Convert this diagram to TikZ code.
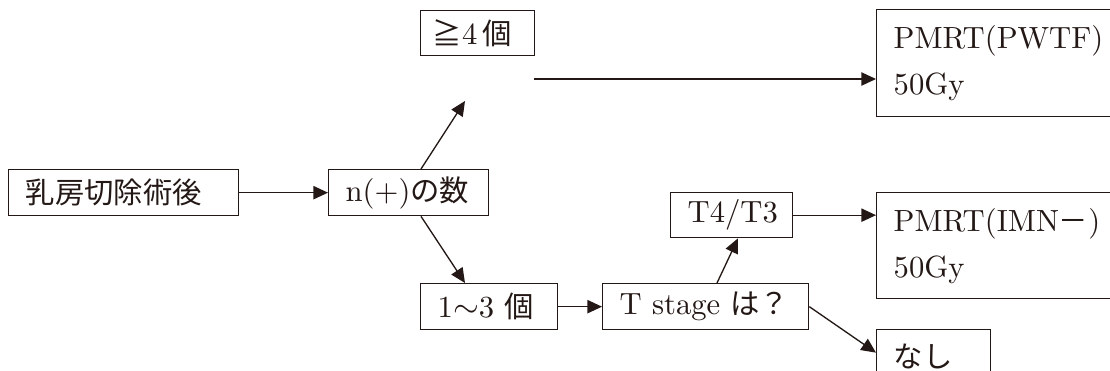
\documentclass[tikz,border=0pt]{standalone}
\usepackage{fontspec}
\setmainfont{lmroman10-regular.otf}
\newfontfamily\jp[Scale=0.957]{Noto Sans CJK JP}
\usetikzlibrary{arrows.meta,calc}
\definecolor{ink}{RGB}{35,24,21}
\begin{document}
\begin{tikzpicture}[x=0.75pt,y=-0.75pt,
  box/.style={draw=ink, text=ink, line width=1pt, inner xsep=12.75pt, inner ysep=0pt,
    align=left, anchor=north west, font=\fontsize{23}{34.5}\selectfont},
  arr/.style={draw=ink, line width=1pt, -{Triangle[length=11pt,width=10pt]}}]
\useasboundingbox (0,0) rectangle (1110,371);
\clip (0,0) rectangle (1110,371);
\node[box, minimum width=172.5pt, text width=147pt, minimum height=34.5pt] (A) at (8,169) {\jp 乳房切除術後};
\node[box, minimum width=120pt, text width=94.5pt, minimum height=34.5pt] (B) at (328,169) {n(+)\jp の数};
\node[box, minimum width=85.5pt, inner xsep=9pt, text width=67.5pt, minimum height=33.75pt] (C) at (420,10) {{\jp ≧}4\,{\jp 個}};
\node[box, minimum width=102.75pt, text width=77.25pt, minimum height=34.5pt] (D) at (420,283) {1$\sim$3 {\jp 個}};
\node[box, minimum width=154.5pt, text width=129pt, minimum height=34.5pt] (E) at (602,283) {T stage {\jp は？}};
\node[box, minimum width=91.5pt, text width=66pt, minimum height=33.75pt] (F) at (670,192) {T4/T3};
\node[box, minimum width=195pt, text width=169.5pt, minimum height=80.25pt] (G) at (876,9) {PMRT(PWTF)\\50Gy};
\node[box, minimum width=195pt, text width=169.5pt, minimum height=79.5pt] (H) at (876,192) {PMRT(IMN{\jp －})\\50Gy};
\node[box, minimum width=85.5pt, text width=60pt, minimum height=40.5pt] (I) at (876,329) {\jp なし};
\coordinate (Ct) at (465,101);
\coordinate (Hs) at (534,79);
\draw[arr] (A) -- (B);
\draw[arr] ($(B.north west)+(93,0)$) -- (Ct);
\draw[arr] (Hs) -- (Hs -| G.west);
\draw[arr] ($(B.south west)+(93,0)$) -- ($(D.north west)+(45,0)$);
\draw[arr] (D) -- (E);
\draw[arr] ($(E.north west)+(115,0)$) -- ($(F.south west)+(68,0)$);
\draw[arr] (F.east) -- (F.east -| H.west);
\draw[arr] (E.east) -- ($(I.west)+(0,-4)$);
\end{tikzpicture}
\end{document}
